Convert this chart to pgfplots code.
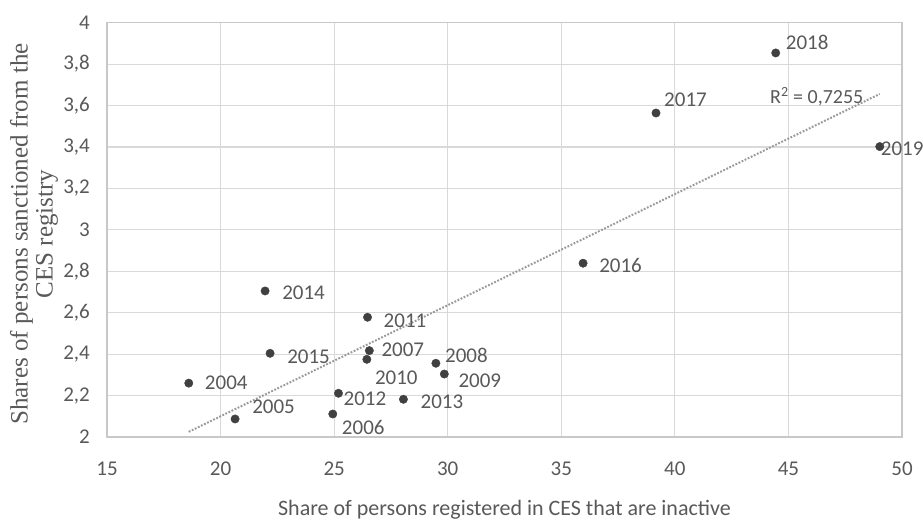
\documentclass[border=0pt]{standalone}
\usepackage{fontspec}
\setmainfont{Carlito}
\newfontfamily\labelserif{Liberation Serif}
\usepackage{pgfplots}
\pgfplotsset{compat=1.18}
\usepackage{pgfplotstable}

\definecolor{gridgray}{HTML}{D9D9D9}
\definecolor{axisgray}{HTML}{C8C8C8}
\definecolor{textgray}{HTML}{595959}
\definecolor{dotgray}{HTML}{404040}
\definecolor{trendgray}{HTML}{9A9A9A}

% share inactive (x), share sanctioned (y), label offsets in bp, year
\pgfplotstableread{
x     y      dx  dy   label
18.60 2.260  16   0   2004
20.64 2.087  17  12   2005
24.94 2.111   9 -13   2006
26.55 2.417  12   1   2007
29.48 2.356   9   8   2008
29.85 2.304  14  -7   2009
26.44 2.375   8 -18   2010
26.47 2.578  16  -3   2011
25.19 2.211   5  -5   2012
28.05 2.182  17  -2   2013
21.96 2.705  17  -2   2014
22.18 2.404  17  -3   2015
35.96 2.839  16  -2   2016
39.17 3.564   8  13   2017
44.44 3.854  10  11   2018
49.02 3.402   1  -2   2019
}\yeardata

% linear trend over the observed range
\pgfplotstableread{
x     y
18.60 2.025
49.02 3.656
}\trenddata

\begin{document}
\begin{tikzpicture}
\begin{axis}[
  scale only axis,
  width=795bp, height=414.3bp,
  xmin=15, xmax=50, ymin=2, ymax=4,
  xtick={15,20,25,30,35,40,45,50},
  ytick={2,2.2,2.4,2.6,2.8,3,3.2,3.4,3.6,3.8,4},
  grid=major,
  major grid style={gridgray, line width=1.2bp},
  axis line style={axisgray, line width=1.2bp},
  major tick length=0pt,
  /pgf/number format/assume math mode=true,
  /pgf/number format/use comma,
  yticklabel style={/pgf/number format/fixed, /pgf/number format/precision=1,
    font=\fontsize{21bp}{21bp}\selectfont, text=textgray, inner sep=0pt, xshift=-17bp},
  xticklabel style={font=\fontsize{21bp}{21bp}\selectfont, text=textgray,
    inner sep=0pt, yshift=-25bp},
  xlabel={Share of persons registered in CES that are inactive},
  xlabel style={at={(axis description cs:0.5,0)}, anchor=base, yshift=-78bp,
    font=\fontsize{22bp}{22bp}\selectfont, text=textgray, inner sep=0pt},
  ylabel={\begin{tabular}{@{}c@{}}Shares of persons sanctioned from the\\[-1bp]CES registry\end{tabular}},
  ylabel style={at={(axis description cs:-0.0906,0.49)}, anchor=center,
    font=\labelserif\fontsize{25bp}{26bp}\selectfont, text=textgray, inner sep=0pt},
  clip=false,
]
\addplot[trendgray, line width=2bp, dash pattern=on 1.8bp off 1.6bp]
  table[x=x, y=y] {\trenddata};
\addplot[only marks, mark=*, mark size=4.2bp,
  mark options={draw=dotgray, fill=dotgray},
  nodes near coords, point meta=explicit symbolic,
  visualization depends on={\thisrow{dx} \as \labeldx},
  visualization depends on={\thisrow{dy} \as \labeldy},
  every node near coord/.append style={anchor=west, xshift=\labeldx bp,
    yshift=\labeldy bp, font=\fontsize{21bp}{21bp}\selectfont,
    text=textgray, inner sep=0pt}]
  table[x=x, y=y, meta=label] {\yeardata};
\node[anchor=west, inner sep=0pt, font=\fontsize{20bp}{20bp}\selectfont, text=textgray]
  at (axis cs:44.19,3.643) {R\textsuperscript{2} = 0,7255};
\end{axis}
\pgfresetboundingbox
\path (-107bp,-83bp) rectangle (816bp,437bp);
\end{tikzpicture}
\end{document}
